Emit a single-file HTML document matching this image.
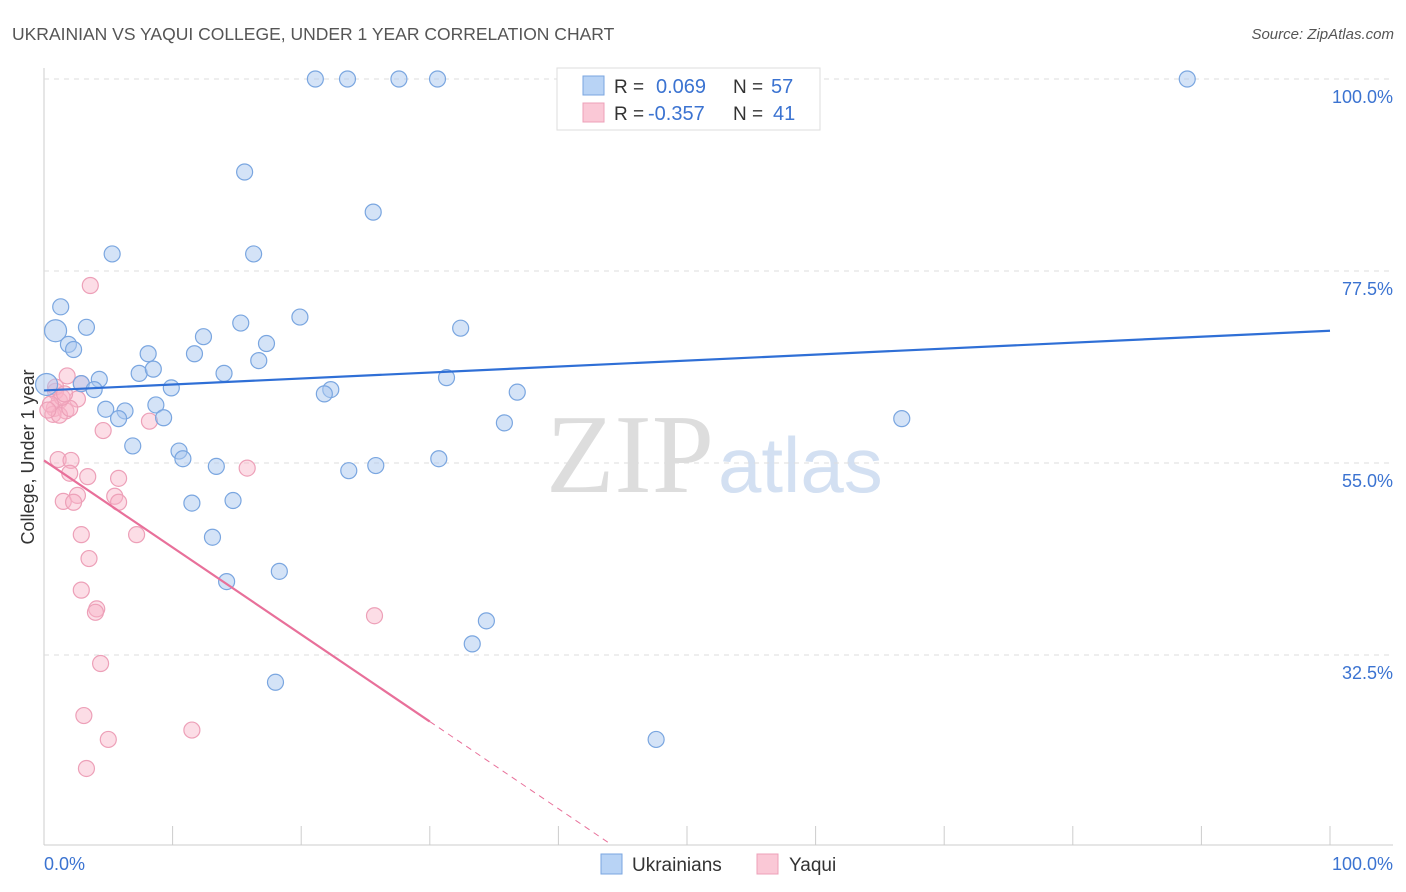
<!DOCTYPE html>
<html><head><meta charset="utf-8"><style>
body{margin:0;background:#fff;font-family:"Liberation Sans",sans-serif;}
svg{display:block}
</style></head><body>
<svg id="c" width="1406" height="892" xmlns="http://www.w3.org/2000/svg">
<text x="12" y="40" font-size="17.5" fill="#555">UKRAINIAN VS YAQUI COLLEGE, UNDER 1 YEAR CORRELATION CHART</text>
<text x="1394" y="39" font-size="15" fill="#555" font-style="italic" text-anchor="end">Source: ZipAtlas.com</text>
<text x="714" y="492" font-size="112" fill="#ddd" font-family="Liberation Serif" text-anchor="end">ZIP</text>
<text x="718" y="492" font-size="78" fill="#d3e0f2" text-anchor="start">atlas</text>
<text transform="translate(34,457) rotate(-90)" font-size="18" fill="#333" text-anchor="middle">College, Under 1 year</text>
<g id="grid"></g><g id="marks"></g>
<g>
<rect x="557" y="68" width="263" height="62" fill="#fff" stroke="#ddd"/>
<rect x="583" y="76" width="21" height="19" fill="#b8d3f5" stroke="#7aa6e0"/>
<rect x="583" y="103" width="21" height="19" fill="#fac8d6" stroke="#eda0b8"/>
<text x="614" y="93" font-size="19" fill="#333">R = </text><text x="656" y="93" font-size="20" fill="#3b73d1">0.069</text>
<text x="733" y="93" font-size="19" fill="#333">N = </text><text x="771" y="93" font-size="20" fill="#3b73d1">57</text>
<text x="614" y="120" font-size="19" fill="#333">R = </text><text x="648" y="120" font-size="20" fill="#3b73d1">-0.357</text>
<text x="733" y="120" font-size="19" fill="#333">N = </text><text x="773" y="120" font-size="20" fill="#3b73d1">41</text>
</g>
<g>
<rect x="601" y="854" width="21" height="20" fill="#b8d3f5" stroke="#7aa6e0"/>
<text x="632" y="871" font-size="19" fill="#333">Ukrainians</text>
<rect x="757" y="854" width="21" height="20" fill="#fac8d6" stroke="#eda0b8"/>
<text x="789" y="871" font-size="19" fill="#333">Yaqui</text>
</g>
</svg>
<script>
const yTicks=[100,77.5,55,32.5];
const yTickLabels=["100.0%","77.5%","55.0%","32.5%"];
const xTickVals=[0,10,20,30,40,50,60,70,80,90,100];
const blueX=[21.1,23.6,27.6,30.6,88.9,15.6,25.6,5.3,16.3,1.3,3.3,0.9,19.9,15.3,12.4,32.4,1.9,2.3,8.1,11.7,17.3,16.7,7.4,8.5,14.0,2.9,4.3,3.9,9.9,31.3,22.3,21.8,36.8,4.8,6.3,5.8,8.7,9.3,35.8,66.7,6.9,10.5,10.8,30.7,13.4,23.7,25.8,11.5,14.7,13.1,14.2,18.3,34.4,33.3,18.0,47.6,0.2];
const blueY=[100,100,100,100,100,89.1,84.4,79.5,79.5,73.3,70.9,70.5,72.1,71.4,69.8,70.8,68.9,68.3,67.8,67.8,69.0,67.0,65.5,66.0,65.5,64.3,64.8,63.6,63.8,65.0,63.6,63.1,63.3,61.3,61.1,60.2,61.8,60.3,59.7,60.2,57.0,56.4,55.5,55.5,54.6,54.1,54.7,50.3,50.6,46.3,41.1,42.3,36.5,33.8,29.3,22.6,64.2];
const pinkX=[3.6,1.8,2.9,0.9,1.2,2.6,0.8,1.7,0.7,1.2,2.0,8.2,4.6,1.1,2.1,2.0,3.4,5.8,15.8,2.6,1.5,2.3,5.5,5.8,2.9,7.2,3.5,2.9,4.1,4.0,25.7,4.4,3.1,11.5,5.0,3.3,0.9,1.4,0.5,0.3,1.6];
const pinkY=[75.8,65.2,64.3,63.4,62.3,62.5,61.4,61.1,60.7,60.6,61.4,59.9,58.8,55.4,55.3,53.8,53.4,53.2,54.4,51.2,50.5,50.4,51.1,50.4,46.6,46.6,43.8,40.1,37.9,37.5,37.1,31.5,25.4,23.7,22.6,19.2,63.9,62.7,61.9,61.2,63.1];
const blueTrendX=[0,100],blueTrendY=[63.5,70.5];
const pinkTrendX=[0,30,44],pinkTrendY=[55.3,24.7,10.4];
const X=v=>44+v*12.86, Y=v=>79+(100-v)*8.533;
const NS="http://www.w3.org/2000/svg";
const grid=document.getElementById('grid'),marks=document.getElementById('marks');
function mk(p,tag,a){const e=document.createElementNS(NS,tag);for(const k in a)e.setAttribute(k,a[k]);p.appendChild(e);return e;}
let ax=mk(grid,'line',{x1:44,x2:44,y1:68,y2:845,stroke:'#ccc'});


let bx=mk(grid,'line',{x1:44,x2:1393,y1:845,y2:845,stroke:'#ccc'});


yTicks.forEach((v,i)=>{
 let g=mk(grid,'line',{x1:44,x2:1393,y1:Y(v),y2:Y(v),stroke:'#ddd','stroke-dasharray':'5,5'});
 
 
 let t=mk(grid,'text',{x:1393,y:Y(v)+24,'font-size':18,fill:'#3b73d1','text-anchor':'end'});t.textContent=yTickLabels[i];
 
 
});
xTickVals.forEach(v=>{
 let l=mk(grid,'line',{x1:X(v),x2:X(v),y1:826,y2:845,stroke:'#ccc'});
 
 
});
let t0=mk(grid,'text',{x:44,y:870,'font-size':18,fill:'#3b73d1'});t0.textContent='0.0%';


let t1=mk(grid,'text',{x:1393,y:870,'font-size':18,fill:'#3b73d1','text-anchor':'end'});t1.textContent='100.0%';


pinkX.forEach((v,i)=>{
 let c=mk(marks,'circle',{cx:X(v),cy:Y(pinkY[i]),r:8,fill:'rgba(248,180,200,0.45)',stroke:'#eda0b8','stroke-width':1.2});
 
 
});
blueX.forEach((v,i)=>{
 let big=(i==11||i==56);
 let c=mk(marks,'circle',{cx:X(v),cy:Y(blueY[i]),r:big?11:8,fill:'rgba(170,200,240,0.5)',stroke:'#7aa6e0','stroke-width':1.2});
 
 
});
let bl=mk(marks,'line',{x1:X(blueTrendX[0]),y1:Y(blueTrendY[0]),x2:X(blueTrendX[1]),y2:Y(blueTrendY[1]),stroke:'#2f6fd6','stroke-width':2.2});


let pl=mk(marks,'line',{x1:X(pinkTrendX[0]),y1:Y(pinkTrendY[0]),x2:X(pinkTrendX[1]),y2:Y(pinkTrendY[1]),stroke:'#e8709a','stroke-width':2.2});


let pd=mk(marks,'line',{x1:X(pinkTrendX[1]),y1:Y(pinkTrendY[1]),x2:X(pinkTrendX[2]),y2:Y(pinkTrendY[2]),stroke:'#e8709a','stroke-width':1,'stroke-dasharray':'6,5'});


</script>
</body></html>
